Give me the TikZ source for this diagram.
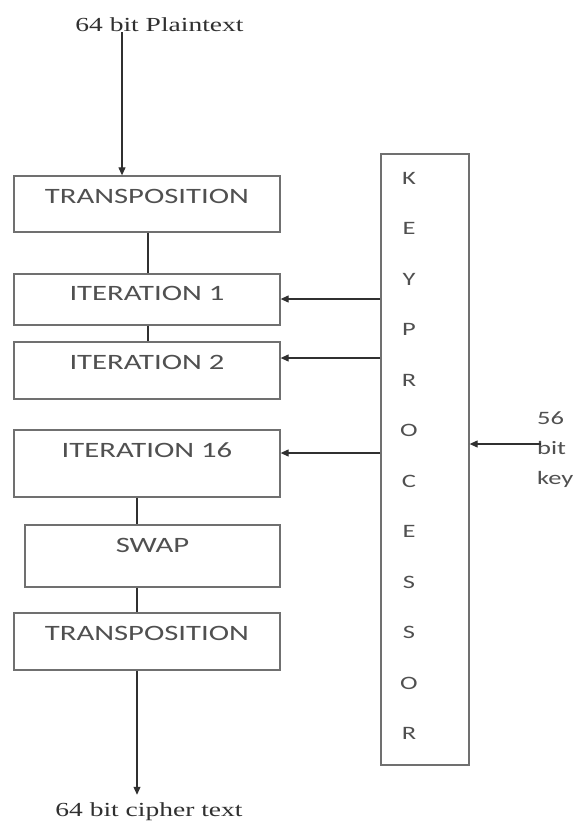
\documentclass[tikz,border=0pt]{standalone}
\usepackage{fontspec}
\newfontfamily\boxfont[FakeStretch=1.4]{Carlito}
\newfontfamily\serfont[FakeStretch=1.38]{Liberation Serif}
\usetikzlibrary{arrows.meta,calc}
\definecolor{boxline}{HTML}{707070}
\definecolor{txtgray}{HTML}{505050}
\definecolor{lnk}{HTML}{303030}
\begin{document}
\begin{tikzpicture}[x=1bp,y=-1bp,
  box/.style={draw=boxline, line width=1.3bp, rectangle, inner sep=0pt,
    minimum width=266bp, font=\boxfont\fontsize{22}{26}\selectfont,
    text=txtgray, text height=14bp},
  keybox/.style={draw=boxline, line width=1.3bp, rectangle, inner sep=0pt},
  keyl/.style={font=\boxfont\fontsize{19}{22}\selectfont, text=txtgray, inner sep=0pt},
  keylab/.style={font=\boxfont\fontsize{19}{30}\selectfont, text=txtgray, inner sep=0pt},
  serlab/.style={font=\serfont\fontsize{20}{24}\selectfont, text=lnk, inner sep=0pt},
  conn/.style={draw=lnk, line width=1.1bp},
  arr/.style={conn, -{Triangle[length=8bp,width=7bp]}}
]
\useasboundingbox (0,0) rectangle (582,822);

% left column
\node[box, minimum height=56bp, text depth=16bp] (t1) at (147,204) {TRANSPOSITION};
\node[box, minimum height=51bp, text depth=13bp] (i1) at (147,299.5) {ITERATION 1};
\node[box, minimum height=57bp, text depth=17bp] (i2) at (147,370.5) {ITERATION 2};
\node[box, minimum height=67bp, text depth=27bp] (i16) at (147,463.5) {ITERATION 16};
\node[box, minimum width=255bp, minimum height=62bp, text depth=22bp] (sw) at (152.5,556) {SWAP};
\node[box, minimum height=57bp, text depth=17bp] (t2) at (147,641.5) {TRANSPOSITION};

% key processor
\node[keybox, minimum width=88bp, minimum height=611bp] (kp) at (425,459.5) {};
\foreach \l [count=\i] in {K,E,Y,P,R,O,C,E,S,S,O,R}
  \node[keyl, anchor=base] (L\i) at (409, {178+(\i-1)*50.45+6.5}) {\l};

% labels
\node[serlab] (pt) at (159.5,25) {64 bit Plaintext};
\node[serlab] (ct) at (149,812) {64 bit cipher text};
\node[keylab, align=left, anchor=north west] (kl) at (537,411.5) {56\\bit\\key};
\coordinate (kin) at (541,444);

% connectors
\draw[arr] (pt.south -| 122,0) -- (t1.north -| 122,0);
\draw[conn] (t1.south -| 148,0) -- (i1.north -| 148,0);
\draw[conn] (i1.south -| 148,0) -- (i2.north -| 148,0);
\draw[conn] (i16.south -| 137,0) -- (sw.north -| 137,0);
\draw[conn] (sw.south -| 137,0) -- (t2.north -| 137,0);
\draw[arr, shorten >=8bp] (t2.south -| 137,0) -- (ct.north -| 137,0);

\draw[arr] (kp.west |- 0,299) -- (i1.east |- 0,299);
\draw[arr] (kp.west |- 0,358) -- (i2.east |- 0,358);
\draw[arr] (kp.west |- 0,453) -- (i16.east |- 0,453);
\draw[arr] (kin) -- (kp.east |- kin);
\end{tikzpicture}
\end{document}
